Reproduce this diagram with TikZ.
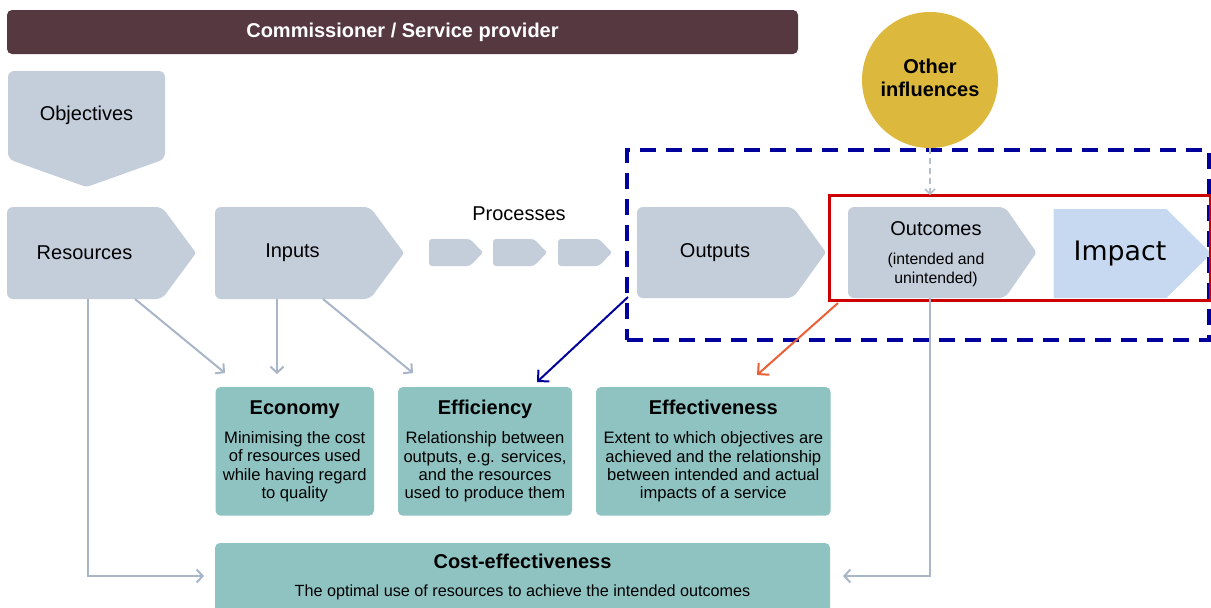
\documentclass[tikz,border=0pt]{standalone}
\usepackage{fontspec}
\setmainfont{Liberation Sans}
\newfontfamily\impactfont{DejaVu Sans}
\usetikzlibrary{calc,backgrounds,arrows.meta}
\definecolor{maroonc}{HTML}{553840}
\definecolor{grayfill}{HTML}{C4CEDB}
\definecolor{impfill}{HTML}{C6D9F0}
\definecolor{goldc}{HTML}{DCB83C}
\definecolor{tealc}{HTML}{8EC3C2}
\definecolor{arrgray}{HTML}{A9B6C8}
\definecolor{dashgrayc}{HTML}{B4BFCD}
\definecolor{dbluec}{HTML}{00009C}
\definecolor{redc}{HTML}{CC0000}
\definecolor{orangec}{HTML}{EA6035}
\newcommand{\boxtitle}[1]{{\bfseries\fontsize{10}{12}\selectfont #1}}
\newcommand{\pentE}[3][3pt]{\fill[grayfill] (#2.west) [rounded corners=#1] -- (#2.north west) -- (#2.north east) [rounded corners=1pt] -- ($(#2.east)+(#3,0)$) [rounded corners=#1] -- (#2.south east) -- (#2.south west) [sharp corners] -- cycle;}
\begin{document}
\begin{tikzpicture}[x=0.5pt,y=-0.5pt,
  box/.style={inner sep=0pt, outer sep=0pt, align=center, font=\fontsize{10}{12}\selectfont},
  tealbox/.style={fill=tealc, rounded corners=2.5pt, inner sep=0pt, outer sep=0pt, align=center, font=\fontsize{8.3}{9.15}\selectfont},
  grayarr/.style={draw=arrgray, line width=1pt, -{Straight Barb[length=3pt,width=6.5pt]}},
  dashgray/.style={draw=dashgrayc, line width=0.75pt, dash pattern=on 3pt off 2pt, -{Straight Barb[length=2.5pt,width=5pt]}},
  colarr/.style={line width=1pt, -{Straight Barb[length=4pt,width=8pt]}}
]
\useasboundingbox (0,0) rectangle (1211,607);

% top bar
\node[box, fill=maroonc, text=white, font=\bfseries\fontsize{10}{12}\selectfont, rounded corners=2.5pt, minimum width=395.5pt, minimum height=22pt] (top) at (402.5,32) {Commissioner / Service provider};

% chain shapes
\node[box, minimum width=78.5pt, minimum height=44pt] (obj) at (86.5,115) {Objectives};
\node[box, minimum width=77.5pt, minimum height=46pt] (res) at (84.5,253) {Resources};
\node[box, minimum width=77.5pt, minimum height=46pt] (inp) at (292.5,253) {Inputs};
\node[box] (proc) at (519,214) {Processes};
\node[box, minimum width=20.5pt, minimum height=13.5pt] (p1) at (449.5,252.5) {};
\node[box, minimum width=20.5pt, minimum height=13.5pt] (p2) at (513.5,252.5) {};
\node[box, minimum width=20.5pt, minimum height=13.5pt] (p3) at (578.5,252.5) {};
\node[box, minimum width=78pt, minimum height=45.5pt] (out) at (715,252.5) {Outputs};
\node[box, minimum width=78.5pt, minimum height=45.5pt] (outc) at (926.5,252.5) {};
\node[align=center, inner sep=0pt, font=\fontsize{7.9}{9.5}\selectfont] (outct) at (936,254) {{\fontsize{10}{12}\selectfont Outcomes}\\[5pt](intended and\\unintended)};
\node[box, minimum width=55pt, minimum height=44.5pt, font=\impactfont\fontsize{13.4}{16}\selectfont] (imp) at (1110,253.5) {\hspace*{10pt}Impact};

% other influences
\node[circle, fill=goldc, minimum size=68pt, inner sep=0pt, align=center, text depth=2.2pt, font=\bfseries\fontsize{10}{11.5}\selectfont] (oth) at (930,80) {Other\\influences};

% highlight boxes
\node[draw=dbluec, line width=2pt, dash pattern=on 8pt off 5pt, minimum width=291.25pt, minimum height=95pt, inner sep=0pt, outer sep=0pt] (bluebox) at (917.75,245) {};
\node[draw=redc, line width=1.5pt, minimum width=190.5pt, minimum height=52.75pt, inner sep=0pt, outer sep=0pt] (redbox) at (1019.5,247.75) {};

% teal boxes
\node[tealbox, minimum width=79.25pt, minimum height=64.35pt] (eco) at (294.75,451.35) {\boxtitle{Economy}\\[5.35pt]Minimising the cost\\of resources used\\while having regard\\to quality};
\node[tealbox, minimum width=87pt, minimum height=64.35pt] (eff) at (485,451.35) {\boxtitle{Efficiency}\\[5.35pt]Relationship between\\outputs, e.g. services,\\and the resources\\used to produce them};
\node[tealbox, minimum width=117.3pt, minimum height=64.35pt] (efv) at (713.3,451.35) {\boxtitle{Effectiveness}\\[5.35pt]Extent to which objectives are\\achieved and the relationship\\between intended and actual\\impacts of a service};
\node[box, font=\fontsize{8.1}{9.15}\selectfont, minimum width=307.5pt, minimum height=33pt] (cost) at (522.5,577) {\boxtitle{Cost-effectiveness}\\[4.85pt]The optimal use of resources to achieve the intended outcomes};

% background fills
\begin{scope}[on background layer]
\fill[white] (0,0) rectangle (1211,607);
\fill[grayfill] (obj.north) [rounded corners=3pt] -- (obj.north east) -- (obj.south east) [rounded corners=1.5pt] -- ($(obj.south)+(0,28)$) [rounded corners=3pt] -- (obj.south west) -- (obj.north west) [sharp corners] -- cycle;
\pentE{res}{34}
\pentE{inp}{34}
\pentE[1.5pt]{p1}{13}
\pentE[1.5pt]{p2}{13}
\pentE[1.5pt]{p3}{13}
\pentE{out}{33}
\pentE{outc}{31.5}
\fill[impfill] (imp.north west) -- (imp.north east) -- ($(imp.east)+(45,0)$) -- (imp.south east) -- (imp.south west) -- cycle;
\fill[tealc, rounded corners=2.5pt] ($(cost.north west)+(0,-1)$) rectangle ($(cost.south east)+(0,40)$);
\end{scope}

% connectors
\draw[grayarr] ($(res.south)+(3.5,0)$) |- ($(cost.west)+(-11,-1)$);
\draw[grayarr] ($(res.south)+(50.5,0)$) -- ($(eco.north west)+(9.5,-14)$);
\draw[grayarr] ($(inp.south)+(-15.5,0)$) -- ($(eco.north)+(-17.75,-13)$);
\draw[grayarr] ($(inp.south)+(30.5,0)$) -- ($(eff.north west)+(15,-14)$);
\draw[grayarr] ($(outc.south)+(3.5,0)$) |- ($(cost.east)+(13,-1)$);
\draw[dashgray] (oth.south) -- (oth.south |- redbox.north);
\draw[colarr, dbluec] ($(bluebox.south west)+(1.5,-43)$) -- ($(eff.north east)+(-35,-5)$);
\draw[colarr, orangec] ($(redbox.south west)+(9,2.5)$) -- ($(efv.north)+(43.7,-12)$);
\end{tikzpicture}
\end{document}
